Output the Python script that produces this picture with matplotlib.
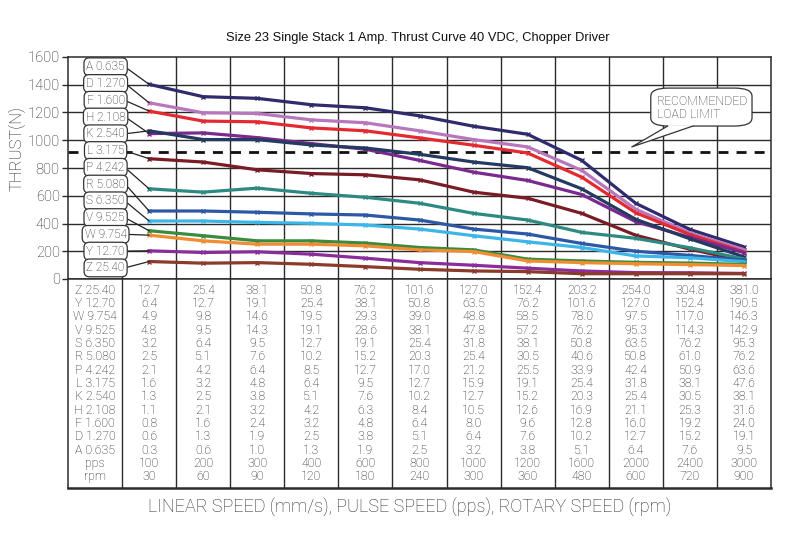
import numpy as np
import matplotlib
matplotlib.use("Agg")
import matplotlib.pyplot as plt
from matplotlib.patches import FancyBboxPatch, Polygon
from matplotlib.lines import Line2D

# ---------------- data ----------------
speed_cols = ["12.7", "25.4", "38.1", "50.8", "76.2", "101.6", "127.0",
              "152.4", "203.2", "254.0", "304.8", "381.0"]

series_labels = ["A 0.635", "D 1.270", "F 1.600", "H 2.108", "K 2.540", "L 3.175",
                 "P 4.242", "R 5.080", "S 6.350", "V 9.525", "W 9.754", "Y 12.70", "Z 25.40"]

thrust_A = [1403, 1314, 1302, 1256, 1234, 1176, 1101, 1043, 855, 545, 357, 232]
thrust_D = [1270, 1198, 1193, 1147, 1126, 1068, 1005, 952, 783, 503, 332, 212]
thrust_F = [1210, 1138, 1133, 1089, 1068, 1017, 964, 908, 734, 477, 320, 195]
thrust_H = [1048, 1053, 1019, 976, 935, 855, 770, 710, 609, 413, 300, 190]
thrust_K = [1068, 1005, 1005, 966, 944, 899, 843, 802, 650, 430, 290, 160]
thrust_L = [867, 843, 787, 760, 751, 715, 626, 582, 473, 315, 215, 130]
thrust_P = [650, 626, 655, 618, 589, 546, 473, 425, 336, 293, 225, 145]
thrust_R = [490, 490, 481, 469, 461, 425, 360, 324, 256, 200, 170, 135]
thrust_S = [418, 418, 408, 401, 389, 360, 312, 268, 227, 166, 153, 125]
thrust_V = [348, 312, 275, 275, 259, 227, 210, 143, 130, 120, 115, 105]
thrust_W = [316, 275, 251, 251, 239, 210, 198, 130, 118, 110, 104, 97]
thrust_Y = [203, 191, 196, 179, 150, 118, 99, 78, 58, 46, 45, 40]
thrust_Z = [126, 114, 118, 106, 89, 70, 58, 53, 38, 38, 38, 38]

series_values = [thrust_A, thrust_D, thrust_F, thrust_H, thrust_K, thrust_L, thrust_P,
                 thrust_R, thrust_S, thrust_V, thrust_W, thrust_Y, thrust_Z]
series_colors = ["#2e2c6c", "#b877bd", "#e42a30", "#7a2a8e", "#243a60", "#7a1c26",
                 "#2d8a82", "#2c58a6", "#3cb6e8", "#3b8b3f", "#f08c32", "#8a2c9c", "#8b3b2b"]

load_limit = 915

table_row_labels = ["Z 25.40", "Y 12.70", "W 9.754", "V 9.525", "S 6.350", "R 5.080",
                    "P 4.242", "L 3.175", "K 2.540", "H 2.108", "F 1.600", "D 1.270",
                    "A 0.635", "pps", "rpm"]
table_Z = ["12.7", "25.4", "38.1", "50.8", "76.2", "101.6", "127.0", "152.4", "203.2", "254.0", "304.8", "381.0"]
table_Y = ["6.4", "12.7", "19.1", "25.4", "38.1", "50.8", "63.5", "76.2", "101.6", "127.0", "152.4", "190.5"]
table_W = ["4.9", "9.8", "14.6", "19.5", "29.3", "39.0", "48.8", "58.5", "78.0", "97.5", "117.0", "146.3"]
table_V = ["4.8", "9.5", "14.3", "19.1", "28.6", "38.1", "47.8", "57.2", "76.2", "95.3", "114.3", "142.9"]
table_S = ["3.2", "6.4", "9.5", "12.7", "19.1", "25.4", "31.8", "38.1", "50.8", "63.5", "76.2", "95.3"]
table_R = ["2.5", "5.1", "7.6", "10.2", "15.2", "20.3", "25.4", "30.5", "40.6", "50.8", "61.0", "76.2"]
table_P = ["2.1", "4.2", "6.4", "8.5", "12.7", "17.0", "21.2", "25.5", "33.9", "42.4", "50.9", "63.6"]
table_L = ["1.6", "3.2", "4.8", "6.4", "9.5", "12.7", "15.9", "19.1", "25.4", "31.8", "38.1", "47.6"]
table_K = ["1.3", "2.5", "3.8", "5.1", "7.6", "10.2", "12.7", "15.2", "20.3", "25.4", "30.5", "38.1"]
table_H = ["1.1", "2.1", "3.2", "4.2", "6.3", "8.4", "10.5", "12.6", "16.9", "21.1", "25.3", "31.6"]
table_F = ["0.8", "1.6", "2.4", "3.2", "4.8", "6.4", "8.0", "9.6", "12.8", "16.0", "19.2", "24.0"]
table_D = ["0.6", "1.3", "1.9", "2.5", "3.8", "5.1", "6.4", "7.6", "10.2", "12.7", "15.2", "19.1"]
table_A = ["0.3", "0.6", "1.0", "1.3", "1.9", "2.5", "3.2", "3.8", "5.1", "6.4", "7.6", "9.5"]
table_pps = ["100", "200", "300", "400", "600", "800", "1000", "1200", "1600", "2000", "2400", "3000"]
table_rpm = ["30", "60", "90", "120", "180", "240", "300", "360", "480", "600", "720", "900"]
table_rows = [table_Z, table_Y, table_W, table_V, table_S, table_R, table_P, table_L,
              table_K, table_H, table_F, table_D, table_A, table_pps, table_rpm]

y_ticks = [0, 200, 400, 600, 800, 1000, 1200, 1400, 1600]

title = "Size 23 Single Stack 1 Amp. Thrust Curve 40 VDC, Chopper Driver"
ylabel = "THRUST(N)"
xlabel = "LINEAR SPEED (mm/s), PULSE SPEED (pps), ROTARY SPEED (rpm)"

# ---------------- figure ----------------
W, H = 806, 549
fig = plt.figure(figsize=(W / 100, H / 100), dpi=100)
fig.patch.set_facecolor("white")

DIN = ["Roboto", "DejaVu Sans"]
FW = "light"
txt_col = "#1a1a1a"
grid_col = "#2b2b2b"

L_px, R_px = 68, 771
top_px, zero_px, tbl_bot_px = 57, 279, 488

ax = fig.add_axes([L_px / W, 1 - zero_px / H, (R_px - L_px) / W, (zero_px - top_px) / H])
ncol = len(speed_cols)
ax.set_xlim(-1, ncol)
ax.set_ylim(0, 1600)
x_pts = np.arange(ncol) + 0.5

# grid
for yv in y_ticks[1:-1]:
    ax.axhline(yv, color=grid_col, lw=1.0, zorder=1)
for xv in range(0, ncol):
    ax.axvline(xv, color=grid_col, lw=1.0, zorder=1)
for s in ax.spines.values():
    s.set_color(grid_col)
    s.set_linewidth(1.1)

ax.set_xticks([])
ax.set_yticks(y_ticks)
ax.set_yticklabels([str(v) for v in y_ticks], fontsize=10.5, color=txt_col, family=DIN,
                   fontweight=FW)
ax.tick_params(axis="y", length=4, width=1.0, color=grid_col, pad=2)
ax.set_ylabel(ylabel, fontsize=12, color=txt_col, family=DIN, fontweight=FW)
ax.yaxis.set_label_coords((26 - L_px) / (R_px - L_px), 0.59)

# load limit
ax.axhline(load_limit, color="#111111", lw=2.0, linestyle=(0, (3.6, 2.9)), zorder=2)

# curves
for vals, c in zip(series_values, series_colors):
    ax.plot(x_pts, vals, color=c, lw=2.3, marker="x", ms=3, mew=1.0,
            solid_capstyle="round", zorder=3)

# labels with leader lines
label_y = np.linspace(0.956, 0.05, len(series_labels))
for lab, vals, yf in zip(series_labels, series_values, label_y):
    ax.annotate(lab, xy=(x_pts[0], vals[0]), xycoords="data",
                xytext=(0.0535, yf), textcoords="axes fraction",
                ha="center", va="center", fontsize=8.6, color=txt_col, family=DIN,
                fontweight=FW,
                bbox=dict(boxstyle="round,pad=0.2,rounding_size=0.45", fc="white",
                          ec="#333333", lw=0.9),
                arrowprops=dict(arrowstyle="-", color="#222222", lw=0.9,
                                shrinkA=0, shrinkB=0, relpos=(1.0, 0.5)),
                zorder=5)

# recommended load limit callout
bx0, bx1, by0, by1 = 0.829, 0.973, 0.689, 0.860
box = FancyBboxPatch((bx0, by0), bx1 - bx0, by1 - by0,
                     boxstyle="round,pad=0,rounding_size=0.025",
                     transform=ax.transAxes, fc="white", ec="#333333", lw=0.9, zorder=6,
                     mutation_aspect=(W / H))
ax.add_patch(box)
p1, p2, tip = (0.853, by0), (0.889, by0), (0.802, 0.595)
ax.add_patch(Polygon([(p1[0], by0 + 0.004), p1, tip, p2, (p2[0], by0 + 0.004)],
                     closed=True, transform=ax.transAxes, fc="white", ec="none", zorder=7))
ax.add_line(Line2D([p1[0], tip[0], p2[0]], [p1[1], tip[1], p2[1]], transform=ax.transAxes,
                   color="#333333", lw=0.9, zorder=8))
ax.text(0.838, 0.799, "RECOMMENDED", transform=ax.transAxes, ha="left", va="center",
        fontsize=8.8, color="#333333", family=DIN, fontweight=FW, zorder=9)
ax.text(0.838, 0.739, "LOAD LIMIT", transform=ax.transAxes, ha="left", va="center",
        fontsize=8.8, color="#333333", family=DIN, fontweight=FW, zorder=9)

# ---------------- table ----------------
tax = fig.add_axes([L_px / W, 1 - tbl_bot_px / H, (R_px - L_px) / W, (tbl_bot_px - zero_px) / H])
tbl_h = tbl_bot_px - zero_px
tax.set_xlim(-1, ncol)
tax.set_ylim(tbl_h, 0)
tax.set_xticks([])
tax.set_yticks([])
for s in tax.spines.values():
    s.set_color(grid_col)
    s.set_linewidth(1.1)
tax.spines["bottom"].set_linewidth(1.8)
for xv in range(0, ncol):
    tax.axvline(xv, color=grid_col, lw=1.0)

row_y = 11 + 13.34 * np.arange(len(table_row_labels))
for ry, lab, row in zip(row_y, table_row_labels, table_rows):
    tax.text(-0.5, ry, lab, ha="center", va="center", fontsize=8.9, color=txt_col,
             family=DIN, fontweight=FW)
    for xi, v in zip(x_pts, row):
        tax.text(xi, ry, v, ha="center", va="center", fontsize=8.9, color=txt_col,
                 family=DIN, fontweight=FW)

fig.text(418 / W, 1 - 38 / H, title, ha="center", va="center", fontsize=9.3,
         color="#111111", family=["Liberation Sans", "DejaVu Sans"])
fig.text(410 / W, 1 - 507 / H, xlabel, ha="center", va="center", fontsize=13,
         color="#2a2a2a", family=DIN, fontweight=FW)

fig.savefig("out.png", dpi=100, facecolor="white")
